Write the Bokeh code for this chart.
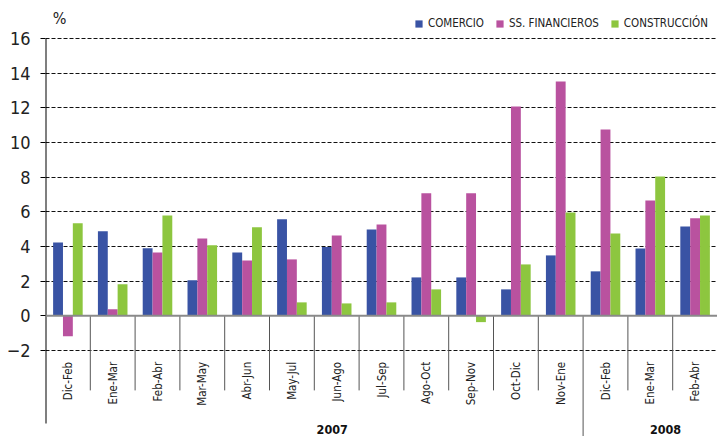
import math
from bokeh.plotting import figure
from bokeh.models import Range1d, FixedTicker, Span, Legend, LegendItem, ColumnDataSource, Label
from bokeh.transform import dodge
from bokeh.core.properties import value
from bokeh.embed import file_html
from bokeh.resources import INLINE

# ---- data ----
periods = ["Dic-Feb", "Ene-Mar", "Feb-Abr", "Mar-May", "Abr-Jun", "May-Jul", "Jun-Ago",
           "Jul-Sep", "Ago-Oct", "Sep-Nov", "Oct-Dic", "Nov-Ene", "Dic-Feb", "Ene-Mar", "Feb-Abr"]
comercio = [4.23, 4.87, 3.90, 2.04, 3.65, 5.56, 3.96, 4.98, 2.21, 2.21, 1.52, 3.48, 2.56, 3.88, 5.15]
financieros = [-1.19, 0.37, 3.65, 4.46, 3.19, 3.25, 4.63, 5.27, 7.06, 7.06, 12.08, 13.52, 10.75, 6.65, 5.62]
construccion = [5.33, 1.81, 5.79, 4.06, 5.10, 0.77, 0.71, 0.77, 1.52, -0.37, 2.96, 5.96, 4.75, 8.04, 5.79]
series_names = ["COMERCIO", "SS. FINANCIEROS", "CONSTRUCCIÓN"]
years = ["2007", "2008"]
year_first_index = [0, 12]
y_ticks = [-2, 0, 2, 4, 6, 8, 10, 12, 14, 16]

# ---- styles ----
colors = ["#3953A4", "#B9529F", "#8DC63F"]
FONT = "DejaVu Sans Condensed"
n = len(periods)
Y_TOP, Y_BOTTOM = 18.19, -6.97

src = ColumnDataSource(dict(
    x=[i + 0.5 for i in range(n)],
    periods=periods,
    comercio=comercio,
    financieros=financieros,
    construccion=construccion,
))

p = figure(width=717, height=436, output_backend="svg", toolbar_location=None,
           x_range=Range1d(0, n), y_range=Range1d(Y_BOTTOM, Y_TOP),
           min_border_left=45, min_border_right=0, min_border_top=0, min_border_bottom=0)
p.outline_line_color = None
p.background_fill_color = "white"
p.border_fill_color = "white"

# grid
p.xgrid.visible = False
p.ygrid.ticker = FixedTicker(ticks=y_ticks)
p.ygrid.grid_line_color = "#111111"
p.ygrid.grid_line_dash = "4 2"
p.ygrid.grid_line_width = 1

# axes
p.xaxis.visible = False
p.yaxis.ticker = FixedTicker(ticks=y_ticks)
p.yaxis.minor_tick_line_color = None
p.yaxis.major_tick_in = 0
p.yaxis.major_tick_out = 5
p.yaxis.major_tick_line_color = "black"
p.yaxis.axis_line_color = None
p.yaxis.major_label_standoff = 10
p.yaxis.major_label_text_font = FONT
p.yaxis.major_label_text_font_size = "18px"
p.yaxis.major_label_text_color = "#222222"

# y axis line (from top tick down past the category labels)
p.segment(x0=[0], y0=[y_ticks[-1]], x1=[0], y1=[-6.22], line_color="black", line_width=2)

# zero line
p.add_layout(Span(location=0, dimension="width", line_color="#8a8a8a", line_width=2))

# bars
offsets = [-0.22, 0.0, 0.22]
cols = ["comercio", "financieros", "construccion"]
renderers = []
for col, off, c in zip(cols, offsets, colors):
    r = p.vbar(x=dodge("x", off, range=p.x_range), top=col, bottom=0, width=0.22,
               source=src, fill_color=c, line_color=None)
    renderers.append(r)

# category dividers
bounds = list(range(1, n + 1))
div_bottom = [Y_BOTTOM if b in year_first_index[1:] else -4.31 for b in bounds]
p.segment(x0=bounds, y0=[0] * len(bounds), x1=bounds, y1=div_bottom,
          line_color="#555555", line_width=1)

# category labels
p.text(x="x", y=-2.66, text="periods", source=src, angle=math.pi / 2,
       text_align="right", text_baseline="middle",
       text_font=value(FONT), text_font_size=value("11.5px"), text_color="#222222")

# year labels
year_label_x = [6.4, 13.84]
p.text(x=year_label_x, y=[-6.56, -6.56], text=years,
       text_align="center", text_baseline="middle",
       text_font=value(FONT), text_font_size=value("12.5px"), text_font_style="bold",
       text_color="#111111")

# % unit label
p.add_layout(Label(x=0.16, y=16.63, text="%", text_font=FONT, text_font_size="16px",
                   text_color="#222222", text_baseline="bottom"))

legend = Legend(items=[LegendItem(label=nm, renderers=[r]) for nm, r in zip(series_names, renderers)],
                orientation="horizontal", location=(369, 406),
                glyph_width=9, glyph_height=9, label_standoff=5, spacing=11,
                padding=0, margin=0, border_line_color=None, background_fill_alpha=0,
                label_text_font=FONT, label_text_font_size="11.5px", label_text_color="#222222")
p.add_layout(legend)

open("out.html", "w").write(file_html(p, INLINE))
